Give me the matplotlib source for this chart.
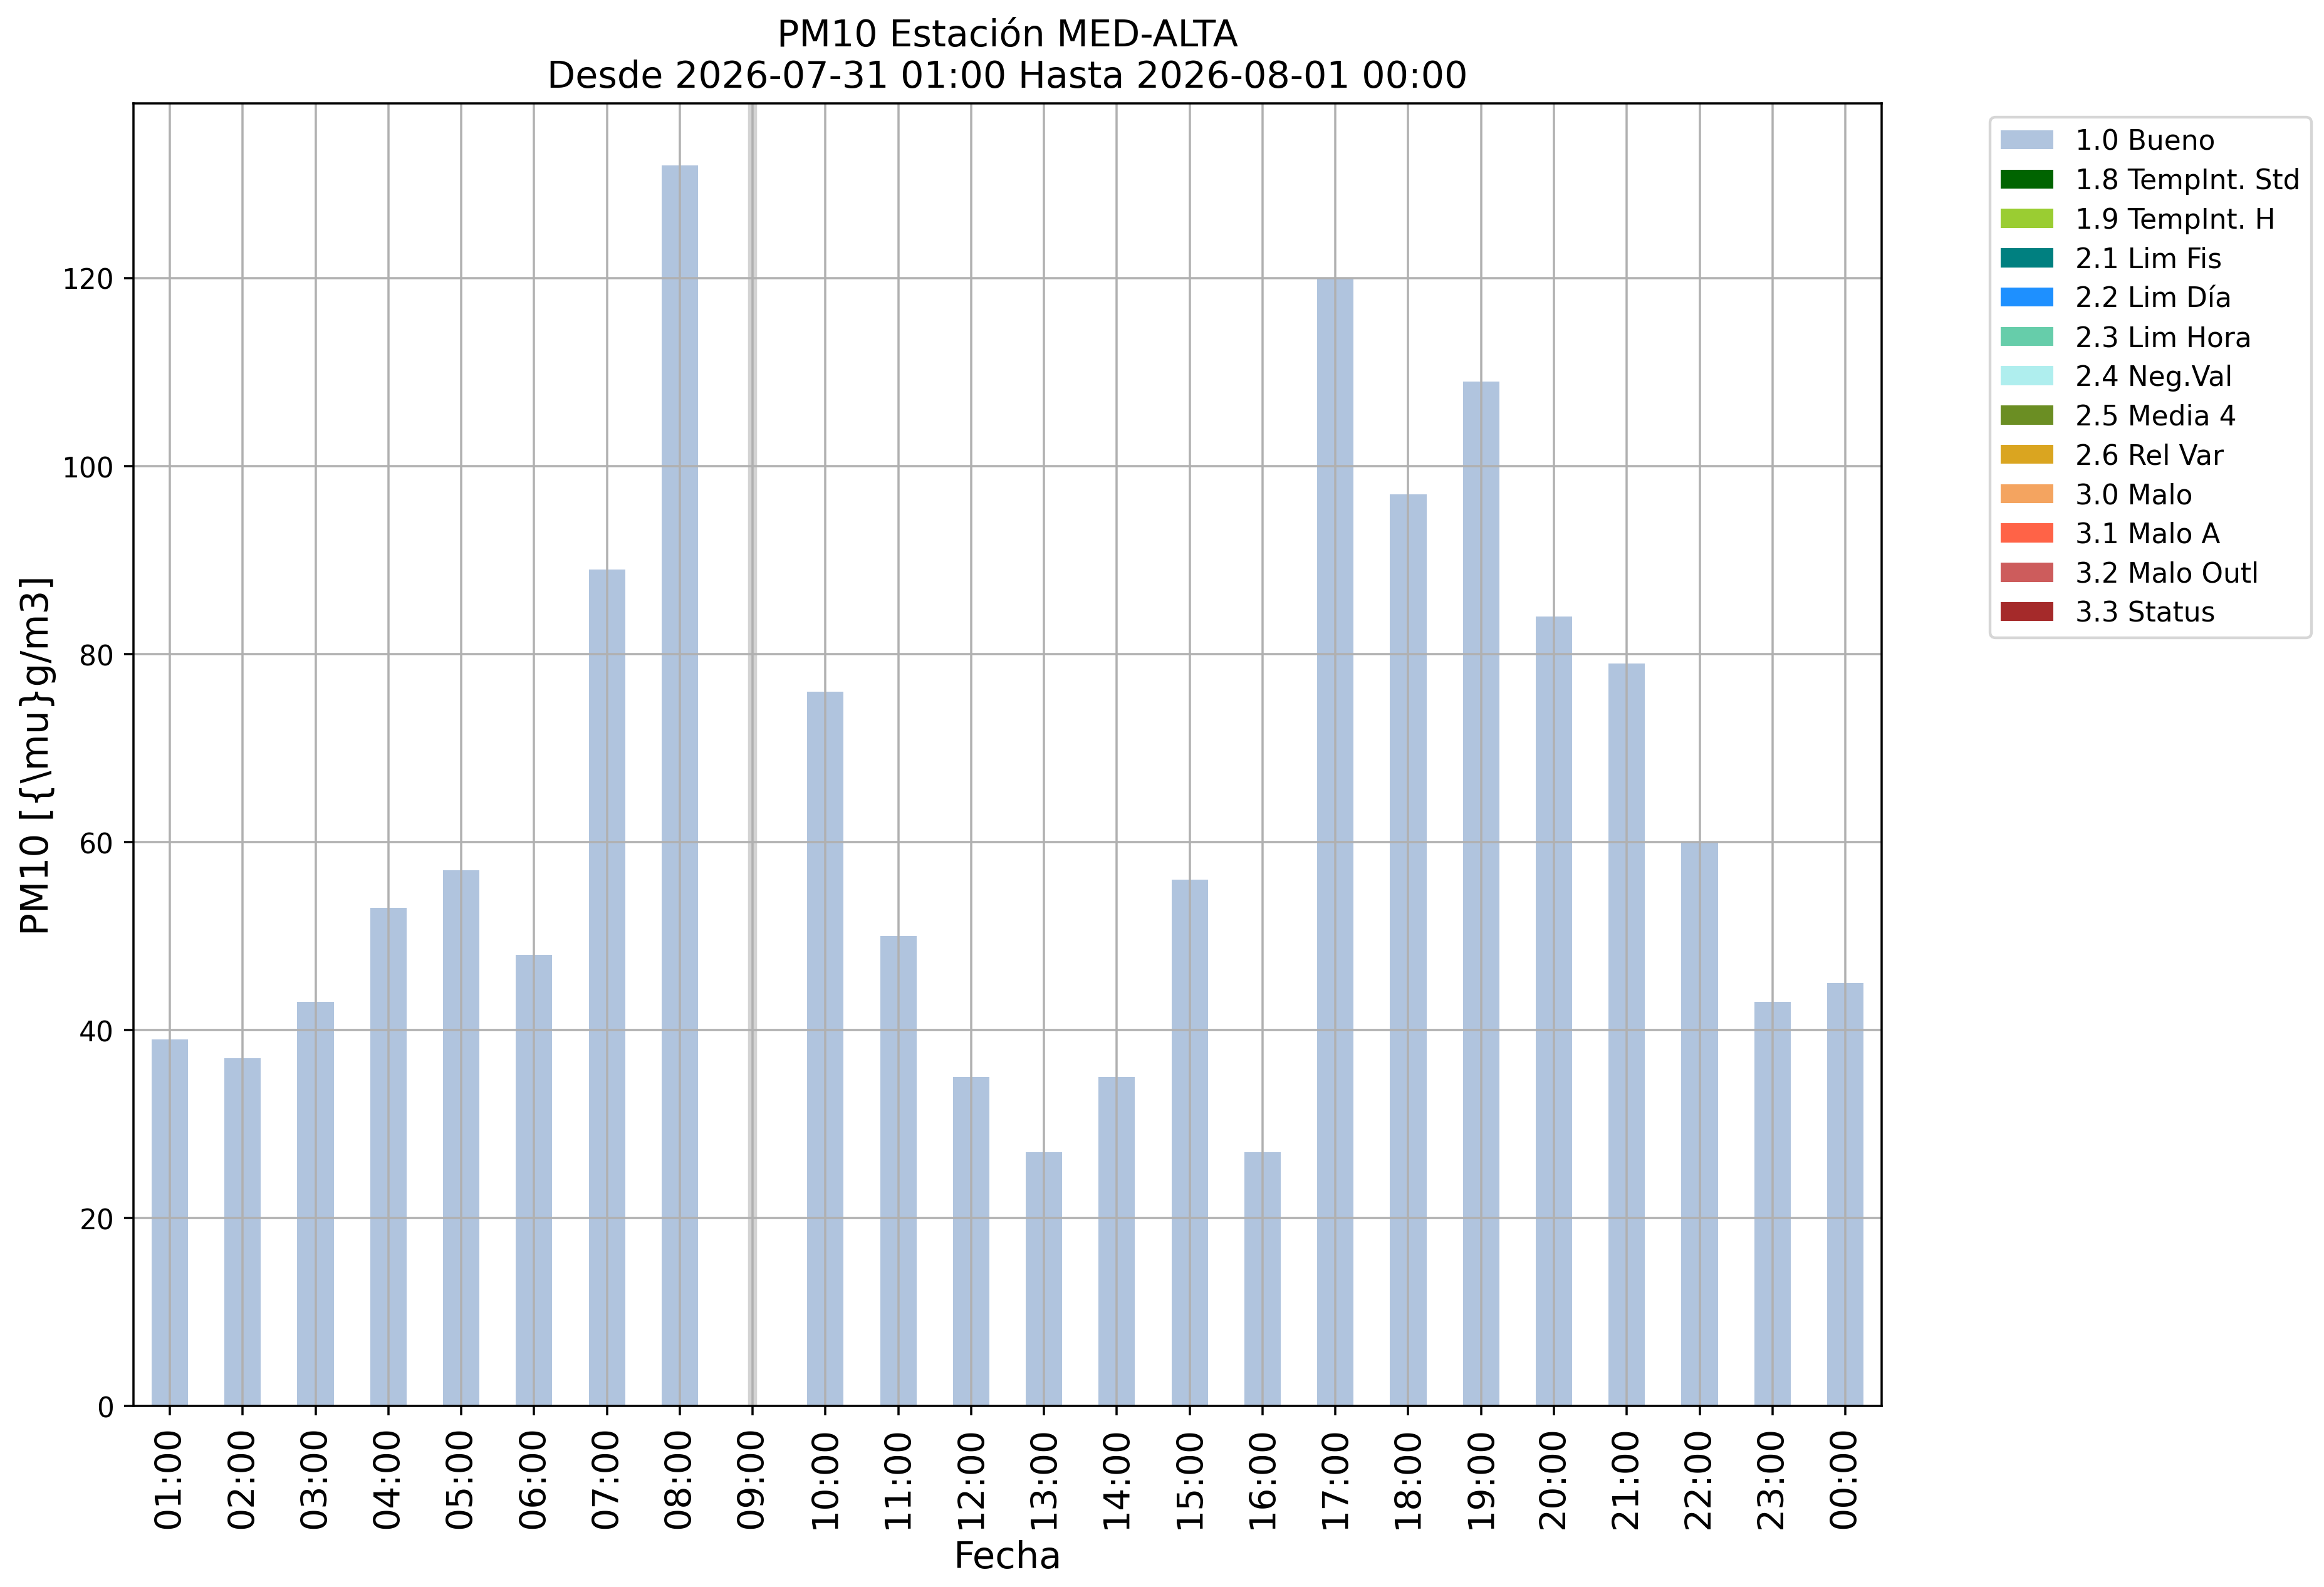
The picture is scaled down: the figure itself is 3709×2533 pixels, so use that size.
import numpy as np
import matplotlib
matplotlib.use("Agg")
import matplotlib.pyplot as plt

# hourly PM10 values, 09:00 missing
hours = ["01:00", "02:00", "03:00", "04:00", "05:00", "06:00", "07:00", "08:00",
         "09:00", "10:00", "11:00", "12:00", "13:00", "14:00", "15:00", "16:00",
         "17:00", "18:00", "19:00", "20:00", "21:00", "22:00", "23:00", "00:00"]
pm10_bueno = [39, 37, 43, 53, 57, 48, 89, 132, np.nan, 76, 50, 35, 27, 35,
              56, 27, 120, 97, 109, 84, 79, 60, 43, 45]
missing_hours = ["09:00"]

flags = ["1.0 Bueno", "1.8 TempInt. Std", "1.9 TempInt. H", "2.1 Lim Fis",
         "2.2 Lim Día", "2.3 Lim Hora", "2.4 Neg.Val", "2.5 Media 4",
         "2.6 Rel Var", "3.0 Malo", "3.1 Malo A", "3.2 Malo Outl", "3.3 Status"]
flag_colors = ["lightsteelblue", "darkgreen", "yellowgreen", "teal", "dodgerblue",
               "mediumaquamarine", "paleturquoise", "olivedrab", "goldenrod",
               "sandybrown", "tomato", "indianred", "brown"]

titulo = "PM10 Estación MED-ALTA\nDesde 2026-07-31 01:00 Hasta 2026-08-01 00:00"

fig = plt.figure(figsize=(3709 / 316, 2534 / 316), dpi=316)
ax = fig.add_axes([0.0574, 0.114, 0.8097 - 0.0574, 0.9345 - 0.114])

x = np.arange(len(hours))
bottom = np.zeros(len(hours))
for flag, col in zip(flags, flag_colors):
    if flag == "1.0 Bueno":
        vals = np.array(pm10_bueno, dtype=float)
    else:
        vals = np.zeros(len(hours))
    ax.bar(x, vals, width=0.5, bottom=bottom, color=col, label=flag, linewidth=0)
    bottom = bottom + np.nan_to_num(vals)

# missing hours marked with a grey line
for h in missing_hours:
    ax.axvline(hours.index(h), color="lightgrey", lw=3.3, zorder=1)

ax.set_xlim(-0.5, len(hours) - 0.5)
ax.set_ylim(0, np.nanmax(bottom) * 1.05)
ax.set_xticks(x)
ax.set_xticklabels(hours, rotation=90, fontsize=13)
ax.tick_params(axis="y", labelsize=10)
ax.grid(True)
ax.set_xlabel("Fecha", fontsize=13.5)
ax.set_ylabel("PM10 [{\\mu}g/m3]", fontsize=13.6, labelpad=2)
ax.set_title(titulo, fontsize=13.4)
ax.legend(loc="upper left", bbox_to_anchor=(1.054, 1), fontsize=10,
          labelspacing=0.45, handlelength=1.9)

fig.savefig("out.png", dpi=316)
